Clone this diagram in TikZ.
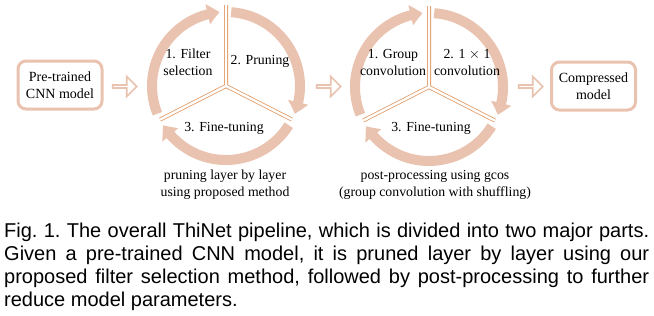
\documentclass[tikz,border=0pt]{standalone}
\usepackage{fontspec}
\setmainfont{Liberation Serif}
\newfontfamily\capfont{Liberation Sans}
\usetikzlibrary{shapes.arrows, arrows.meta, positioning, bending}
\definecolor{peach}{HTML}{E9C3AF}
\definecolor{rim}{HTML}{E29A68}

\begin{document}
\begin{tikzpicture}[
    x=1pt, y=1pt,
    block/.style={
        rectangle, rounded corners=8pt,
        draw=peach, line width=3pt, fill=white,
        minimum height=48pt,
        minimum width=84pt,
        align=center,
        font=\fontsize{14}{17}\selectfont
    },
    hollow/.style={single arrow, draw=peach, line width=1.7pt, fill=white,
        inner sep=0pt, minimum height=24pt, minimum width=20pt,
        single arrow head extend=4.8pt},
    ring/.style={peach, line width=10pt, -{Triangle[width=20pt, length=12pt, bend]}},
    split/.style={draw=rim, line width=0.8pt, double=white, double distance=2.4pt},
    stage/.style={align=center, font=\fontsize{13.8}{17}\selectfont}
]
\useasboundingbox (0,0) rectangle (654,-316);

\node[block] (pre) at (60,-85) {Pre-trained\\CNN model};
\node[block] (comp) at (593.5,-86) {Compressed\\model};

\node[hollow] (go1) at (124,-86.5) {};
\node[hollow] (go2) at (328,-86.5) {};
\node[hollow] (go3) at (530,-86.5) {};

% pruning cycle
\coordinate (cA) at (226,-86);
\draw[ring] ([shift={(202:74)}]cA) arc[start angle=202, end angle=95, radius=74];
\draw[ring] ([shift={(86:74)}]cA) arc[start angle=86, end angle=-22, radius=74];
\draw[ring] ([shift={(-32:74)}]cA) arc[start angle=-32, end angle=-148, radius=74];
\draw[split] ([shift={(90:81)}]cA) -- (cA) -- ([shift={(207:74)}]cA)
    (cA) -- ([shift={(333:74)}]cA);
\node[stage] (selA) at (188,-62) {1. Filter\\selection};
\node[stage] (prnA) at (260,-61) {2. Pruning};
\node[stage] (ftA) at (224,-128) {3. Fine-tuning};
\node[stage] (noteA) at (225,-185) {pruning layer by layer\\using proposed method};

% post-processing cycle
\coordinate (cB) at (429,-87);
\draw[ring] ([shift={(202:74)}]cB) arc[start angle=202, end angle=95, radius=74];
\draw[ring] ([shift={(86:74)}]cB) arc[start angle=86, end angle=-22, radius=74];
\draw[ring] ([shift={(-32:74)}]cB) arc[start angle=-32, end angle=-148, radius=74];
\draw[split] ([shift={(90:81)}]cB) -- (cB) -- ([shift={(207:74)}]cB)
    (cB) -- ([shift={(333:74)}]cB);
\node[stage] (grpB) at (393,-62) {1. Group\\convolution};
\node[stage] (oneB) at (467,-62) {2. 1 $\times$ 1\\convolution};
\node[stage] (ftB) at (431,-128) {3. Fine-tuning};
\node[stage] (noteB) at (435,-185) {post-processing using gcos\\(group convolution with shuffling)};

\node[anchor=north west, inner sep=0pt, text width=645pt, align=justify,
      font=\capfont\fontsize{20}{23.3}\selectfont\frenchspacing] (cap) at (4,-222.4)
  {Fig. 1. The overall ThiNet pipeline, which is divided into two major parts.\linebreak
   Given a pre-trained CNN model, it is pruned layer by layer using our\linebreak
   proposed filter selection method, followed by post-processing to further\linebreak
   reduce model parameters.};
\end{tikzpicture}
\end{document}
